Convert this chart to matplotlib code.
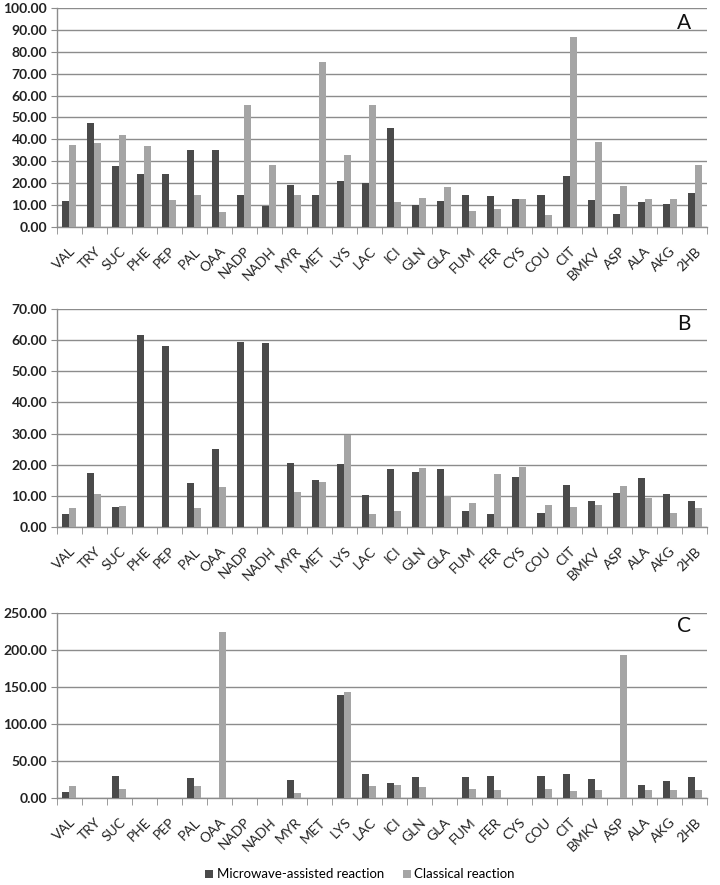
import numpy as np
import matplotlib.pyplot as plt
import matplotlib.transforms as mtransforms

plt.rcParams['font.family'] = ['Lato', 'DejaVu Sans']

categories = ["VAL", "TRY", "SUC", "PHE", "PEP", "PAL", "OAA", "NADP", "NADH",
              "MYR", "MET", "LYS", "LAC", "ICI", "GLN", "GLA", "FUM", "FER",
              "CYS", "COU", "CIT", "BMKV", "ASP", "ALA", "AKG", "2HB"]

# Panel A
micro_a = [11.8, 47.3, 28.0, 24.3, 24.3, 35.3, 35.3, 14.5, 9.4, 19.0, 14.5, 20.8, 20.0,
           45.0, 10.0, 11.8, 14.7, 14.3, 12.9, 14.7, 23.4, 12.1, 6.0, 11.3, 10.5, 15.6]
classic_a = [37.5, 38.2, 42.0, 37.2, 12.5, 14.5, 6.8, 55.6, 28.4, 14.8, 75.4, 32.7, 55.8,
             11.3, 13.3, 18.2, 7.2, 8.0, 12.9, 5.6, 86.7, 38.6, 18.9, 12.9, 12.9, 28.1]

# Panel B
micro_b = [4.2, 17.3, 6.4, 61.8, 58.0, 14.0, 25.2, 59.3, 59.0, 20.4, 15.1, 20.1, 10.4,
           18.5, 17.6, 18.7, 5.2, 4.3, 16.1, 4.5, 13.5, 8.4, 10.8, 15.8, 10.6, 8.2]
classic_b = [6.1, 10.6, 6.8, 0, 0, 6.0, 12.7, 0, 0, 11.1, 14.3, 29.4, 4.3,
             5.0, 18.9, 9.9, 7.7, 17.0, 19.2, 7.2, 6.4, 7.2, 13.1, 9.2, 4.5, 6.1]

# Panel C
micro_c = [8.6, 0, 29.3, 0, 0, 26.6, 0, 0, 0, 24.8, 0, 139.4, 32.5,
           20.3, 28.0, 0, 28.0, 29.3, 0, 29.3, 32.9, 25.7, 0, 17.1, 22.6, 28.0]
classic_c = [15.8, 0, 12.2, 0, 0, 15.8, 223.8, 0, 0, 6.8, 0, 143.0, 15.8,
             17.1, 14.9, 0, 12.2, 11.3, 0, 12.2, 9.0, 10.4, 193.6, 10.4, 10.4, 11.3]

panels = [
    ("A", micro_a, classic_a, 100, 10, [0.079, 0.7435, 0.903, 0.2475]),
    ("B", micro_b, classic_b, 70, 10, [0.079, 0.4045, 0.903, 0.2463]),
    ("C", micro_c, classic_c, 250, 50, [0.079, 0.0983, 0.903, 0.2090]),
]

dark = '#4a4a4a'
light = '#a5a5a5'
grid_col = '#8c8c8c'

fig = plt.figure(figsize=(7.2, 8.85), dpi=100)
x = np.arange(len(categories))
w = 0.28
# nudge the rotated labels a little right, like Excel does
shift = mtransforms.ScaledTranslation(6 / 72, 0, fig.dpi_scale_trans)

for label, micro, classic, ymax, step, rect in panels:
    ax = fig.add_axes(rect)
    ax.bar(x - w / 2, micro, width=w, color=dark, label='Microwave-assisted reaction', zorder=3)
    ax.bar(x + w / 2, classic, width=w, color=light, label='Classical reaction', zorder=3)
    ax.set_xlim(-0.5, len(categories) - 0.5)
    ax.set_ylim(0, ymax)
    yt = np.arange(0, ymax + step / 2, step)
    ax.set_yticks(yt)
    ax.set_yticklabels([f"{v:.2f}" for v in yt], fontsize=10, fontweight='bold', color='#222222')
    ax.yaxis.grid(True, color=grid_col, linewidth=1.0, zorder=0)
    ax.set_axisbelow(True)

    # category labels at centres, tick marks at the boundaries
    ax.set_xticks(x)
    ax.set_xticklabels(categories, rotation=45, ha='right', rotation_mode='anchor',
                       fontsize=10, color='#222222')
    for t in ax.get_xticklabels():
        t.set_transform(t.get_transform() + shift)
    ax.tick_params(axis='x', which='major', length=0, pad=13)
    ax.set_xticks(np.arange(-0.5, len(categories)), minor=True)
    ax.tick_params(axis='x', which='minor', length=5, color=grid_col, direction='out')
    ax.tick_params(axis='y', length=4, color=grid_col, direction='out', pad=3)

    for s in ['top', 'right']:
        ax.spines[s].set_visible(False)
    for s in ['left', 'bottom']:
        ax.spines[s].set_color(grid_col)
        ax.spines[s].set_linewidth(1.0)

    ax.text(0.975, 0.93, label, transform=ax.transAxes, fontsize=15,
            ha='right', va='center', color='#111111')

handles, labels = ax.get_legend_handles_labels()
fig.legend(handles, labels, loc='center', bbox_to_anchor=(0.5, 0.012), ncol=2,
           frameon=False, fontsize=9.5, handlelength=0.6, handleheight=0.6,
           columnspacing=1.4, handletextpad=0.3)

fig.savefig('out.png', dpi=100)
